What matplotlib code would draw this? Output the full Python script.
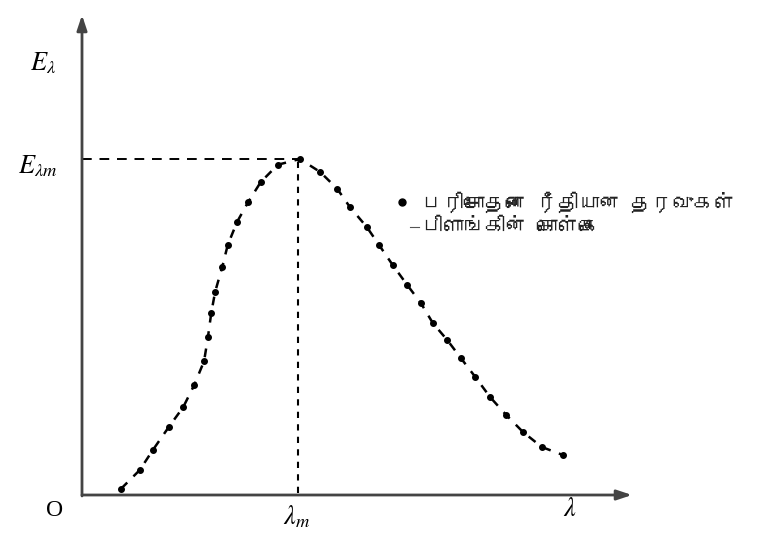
import matplotlib
matplotlib.use("Agg")
import matplotlib.pyplot as plt
from matplotlib import font_manager
from matplotlib.ft2font import FT2Font

# Measured spectral intensity (arbitrary units) against wavelength
lam = [0.71, 1.05, 1.29, 1.58, 1.84, 2.04, 2.22, 2.29, 2.35, 2.42, 2.55, 2.65,
       2.82, 3.02, 3.25, 3.56, 3.96, 4.33, 4.64, 4.87, 5.18, 5.40, 5.65, 5.91,
       6.16, 6.38, 6.64, 6.89, 7.15, 7.42, 7.71, 8.02, 8.36, 8.75]
E = [0.13, 0.52, 0.94, 1.42, 1.83, 2.29, 2.79, 3.29, 3.79, 4.23, 4.75, 5.21,
     5.69, 6.10, 6.52, 6.88, 7.00, 6.73, 6.38, 6.00, 5.58, 5.21, 4.79, 4.38,
     4.00, 3.58, 3.23, 2.85, 2.46, 2.04, 1.67, 1.31, 1.00, 0.83]
lam_peak = 3.92
E_peak = 7.0

legend_points = "பரிசோதனை ரீதியான தரவுகள்"
legend_theory = "பிளாங்கின் கொள்கை"


def tamil_font():
    for f in font_manager.fontManager.ttflist:
        try:
            cm = FT2Font(f.fname).get_charmap()
        except Exception:
            continue
        if 0x0BAA in cm and 0x0BC8 in cm:
            return f.name
    return "DejaVu Sans"


tfont = tamil_font()

plt.rcParams["mathtext.fontset"] = "stix"
plt.rcParams["font.family"] = "Liberation Serif"

fig = plt.figure(figsize=(7.74, 5.45), dpi=100)
ax = fig.add_axes([0, 0, 1, 1])
ax.set_xlim(-82 / 55, (774 - 82) / 55)
ax.set_ylim(-50 / 48, 495 / 48)
ax.axis("off")

# axes with arrow heads
arrow = dict(arrowstyle="-|>,head_length=0.9,head_width=0.3", color="#444444",
             lw=2.0, shrinkA=0, shrinkB=0)
ax.annotate("", xy=(10.0, 0), xytext=(0, 0), arrowprops=arrow)
ax.annotate("", xy=(0, 10.0), xytext=(0, -0.02), arrowprops=arrow)

# guide lines to the peak
ax.plot([0, lam_peak], [E_peak, E_peak], color="black", lw=1.4, ls=(0, (5, 4)))
ax.plot([lam_peak, lam_peak], [0.05, E_peak], color="black", lw=1.5,
        ls=(0, (3, 3)))

# theory curve and measured points
ax.plot(lam, E, color="black", lw=1.8, ls=(0, (3.5, 3.5)), zorder=3)
ax.plot(lam, E, ls="none", marker="o", ms=4.0, color="black", zorder=4)

# labels
ax.text(-0.70, 9.0, r"$E_\lambda$", fontsize=19, ha="center", va="center")
ax.text(-0.80, 6.85, r"$E_{\lambda m}$", fontsize=19, ha="center", va="center")
ax.text(-0.49, -0.32, "O", fontsize=17, ha="center", va="center")
ax.text(3.90, -0.45, r"$\lambda_m$", fontsize=19, ha="center", va="center")
ax.text(8.87, -0.30, r"$\lambda$", fontsize=19, ha="center", va="center")

# legend
ax.plot([5.82], [6.10], marker="o", ms=5, color="black", ls="none")
ax.text(6.18, 6.10, legend_points, fontsize=15, va="center", ha="left",
        family=[tfont, "DejaVu Sans"], color="#222222", weight="bold")
ax.plot([5.96, 6.12], [5.58, 5.58], color="#555555", lw=0.8)
ax.text(6.18, 5.58, legend_theory, fontsize=15, va="center", ha="left",
        family=[tfont, "DejaVu Sans"], color="#222222", weight="bold")

fig.savefig("out.png", dpi=100, facecolor="white")
